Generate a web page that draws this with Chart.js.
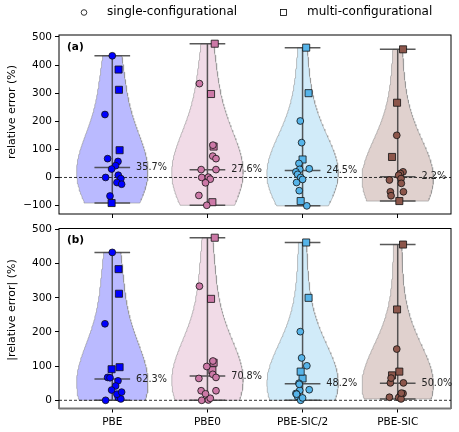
<!DOCTYPE html>
<html>
<head>
<meta charset="utf-8">
<script src="https://cdn.jsdelivr.net/npm/chart.js@4.4.0/dist/chart.umd.min.js"></script>
<style>
  body { margin: 0; background: #fff; }
  #wrap { position: relative; width: 459px; height: 432px; }
  canvas { position: absolute; left: 0; top: 0; }
</style>
</head>
<body>
<div id="wrap">
  <canvas id="topChart" width="459" height="432"></canvas>
  <canvas id="botChart" width="459" height="432"></canvas>
</div>
<script>
// methods along the x axis
var categories = ['PBE', 'PBE0', 'PBE-SIC/2', 'PBE-SIC'];
var yTicksA = [-100, 0, 100, 200, 300, 400, 500];
var yTicksB = [0, 100, 200, 300, 400, 500];

// medians printed next to each violin
var medA = [35.7, 27.6, 24.5, 2.2];
var medB = [62.3, 70.8, 48.2, 50.0];

// relative errors (%) per system, jitter offset, 1 = multi-configurational
var pbeErr   = [433, 384, 312, 224, 97, 67, 57, 42, 30, 0, 8, -4, -18, -24, -66, -91];
var pbeJit   = [0, 0.066, 0.07, -0.077, 0.077, -0.049, 0.06, 0.035, -0.007, -0.07, 0.063, 0.09, 0.049, 0.098, -0.024, -0.007];
var pbeMulti = [0, 1, 1, 0, 1, 0, 0, 0, 0, 0, 0, 0, 0, 0, 0, 1];

var pbe0Err   = [476, 334, 297, 115, 110, 76, 67, 28, 28, 0, 1, -6, -19, -64, -88, -99];
var pbe0Jit   = [0.077, -0.084, 0.038, 0.058, 0.065, 0.056, 0.09, -0.066, 0.09, -0.06, 0.01, 0.03, -0.02, -0.09, 0.052, -0.007];
var pbe0Multi = [1, 0, 1, 0, 1, 0, 0, 0, 0, 0, 0, 0, 0, 0, 1, 0];

var sic2Err   = [462, 300, 201, 124, 64, 50, 31, 29, 20, 11, 0, -7, -18, -47, -84, -101];
var sic2Jit   = [0.038, 0.063, -0.024, -0.01, 0, -0.038, 0.07, -0.03, -0.07, -0.052, -0.02, 0, -0.063, -0.035, -0.02, 0.045];
var sic2Multi = [1, 1, 0, 0, 1, 0, 0, 0, 0, 0, 0, 0, 0, 0, 1, 0];

var sicErr   = [456, 266, 150, 73, 20, 14, 8, -4, -9, -21, -51, -51, -65, -84];
var sicJit   = [0.056, -0.007, -0.01, -0.06, 0.056, 0.028, 0.01, 0.035, -0.087, 0.038, 0.06, -0.077, -0.07, 0.017];
var sicMulti = [1, 1, 0, 1, 0, 0, 0, 0, 0, 0, 0, 0, 0, 1];

var colors = ['#0000ff', '#cc79a7', '#56b4e9', '#8c564b'];

var series = [
  {err: pbeErr, jit: pbeJit, multi: pbeMulti},
  {err: pbe0Err, jit: pbe0Jit, multi: pbe0Multi},
  {err: sic2Err, jit: sic2Jit, multi: sic2Multi},
  {err: sicErr, jit: sicJit, multi: sicMulti}
];

var FONT = '"DejaVu Sans", sans-serif';
var xMin = -0.56, xMax = 3.56;
var halfW = 0.375, cap = 0.1875;
var bwScale = 1.5;

function rgba(hex, a) {
  var n = parseInt(hex.slice(1), 16);
  return 'rgba(' + (n >> 16) + ',' + ((n >> 8) & 255) + ',' + (n & 255) + ',' + a + ')';
}

// gaussian kde of the points, scaled so every violin has the same max width
function violin(vals, center) {
  var n = vals.length;
  var mean = vals.reduce(function (a, b) { return a + b; }, 0) / n;
  var vr = vals.reduce(function (a, b) { return a + (b - mean) * (b - mean); }, 0) / (n - 1);
  var bw2 = vr * Math.pow(n, -0.4) * bwScale * bwScale;
  var lo = Math.min.apply(null, vals), hi = Math.max.apply(null, vals);
  var ys = [], ds = [];
  for (var k = 0; k < 100; k++) {
    var y = lo + (hi - lo) * k / 99, d = 0;
    vals.forEach(function (v) { d += Math.exp(-(y - v) * (y - v) / (2 * bw2)); });
    ys.push(y); ds.push(d);
  }
  var m = Math.max.apply(null, ds);
  var left = ys.map(function (y, k) { return {x: center - halfW * ds[k] / m, y: y}; });
  var right = ys.map(function (y, k) { return {x: center + halfW * ds[k] / m, y: y}; }).reverse();
  return left.concat(right, [left[0]]);
}

function buildDatasets(abs, meds) {
  var out = [];
  series.forEach(function (s, i) {
    var vals = abs ? s.err.map(Math.abs) : s.err;
    var single = [], multi = [];
    vals.forEach(function (v, k) {
      var p = {x: i + s.jit[k], y: v};
      if (s.multi[k]) multi.push(p); else single.push(p);
    });
    out.push({data: single, pointStyle: 'circle', pointRadius: 3.4, backgroundColor: colors[i],
      borderColor: '#111', borderWidth: 0.8, order: 0});
    out.push({data: multi, pointStyle: 'rect', pointRadius: 5, backgroundColor: colors[i],
      borderColor: '#111', borderWidth: 0.8, order: 0});
    var lo = Math.min.apply(null, vals), hi = Math.max.apply(null, vals), md = meds[i];
    out.push({
      data: [{x: i, y: lo}, {x: i, y: hi}, {x: i, y: null},
             {x: i - cap, y: lo}, {x: i + cap, y: lo}, {x: i, y: null},
             {x: i - cap, y: hi}, {x: i + cap, y: hi}, {x: i, y: null},
             {x: i - cap, y: md}, {x: i + cap, y: md}],
      showLine: true, spanGaps: false, pointRadius: 0, borderColor: 'rgba(60,60,60,0.85)',
      borderWidth: 1.5, order: 1
    });
    out.push({data: violin(vals, i), showLine: true, fill: 'shape', backgroundColor: rgba(colors[i], 0.27),
      borderColor: 'rgba(140,140,140,0.55)', borderWidth: 1, pointRadius: 0, order: 3});
  });
  out.push({data: [{x: xMin, y: 0}, {x: xMax, y: 0}], showLine: true, borderDash: [3, 2],
    borderColor: '#000', borderWidth: 0.8, pointRadius: 0, order: 2});
  return out;
}

var panelDeco = {
  id: 'panelDeco',
  afterDraw: function (chart, args, o) {
    var ctx = chart.ctx, a = chart.chartArea, x = chart.scales.x, y = chart.scales.y;
    ctx.save();
    ctx.strokeStyle = '#000';
    ctx.lineWidth = 1;
    ctx.strokeRect(a.left, a.top, a.right - a.left, a.bottom - a.top);
    if (o.grayBottom) {
      ctx.strokeStyle = '#777';
      ctx.lineWidth = 2;
      ctx.beginPath();
      ctx.moveTo(a.left, a.bottom);
      ctx.lineTo(a.right, a.bottom);
      ctx.stroke();
    }

    ctx.font = '9.7px ' + FONT;
    ctx.fillStyle = '#222';
    ctx.textBaseline = 'middle';
    ctx.textAlign = 'left';
    o.meds.forEach(function (m, i) {
      ctx.fillText(m.toFixed(1) + '%', x.getPixelForValue(i + 0.25), y.getPixelForValue(m));
    });

    ctx.font = 'bold 10.5px ' + FONT;
    ctx.fillStyle = '#000';
    ctx.fillText(o.label, a.left + 8, a.top + 12);

    // y axis title
    ctx.save();
    ctx.translate(12, o.titleY);
    ctx.rotate(-Math.PI / 2);
    ctx.textAlign = 'center';
    ctx.font = '11px ' + FONT;
    ctx.fillText(o.title, 0, 0);
    ctx.restore();

    if (o.legend) {
      ctx.strokeStyle = '#000';
      ctx.lineWidth = 0.8;
      ctx.beginPath();
      ctx.arc(84, 12.5, 2.8, 0, Math.PI * 2);
      ctx.stroke();
      ctx.strokeRect(280.5, 9.5, 6, 6);
      ctx.font = '12px ' + FONT;
      ctx.fillText('single-configurational', 107, 12);
      ctx.fillText('multi-configurational', 307, 12);
    }
    ctx.restore();
  }
};

function makePanel(id, abs, meds, yTicks, yMin, yMax, yTitle, titleY, label, pad, xHeight, showX) {
  return new Chart(document.getElementById(id), {
    type: 'scatter',
    data: {datasets: buildDatasets(abs, meds)},
    options: {
      responsive: false,
      animation: false,
      events: [],
      layout: {padding: pad},
      plugins: {
        legend: {display: false},
        tooltip: {enabled: false},
        panelDeco: {meds: meds, label: label, legend: !abs, title: yTitle, titleY: titleY, grayBottom: abs}
      },
      scales: {
        x: {
          min: xMin, max: xMax,
          afterFit: function (s) { s.height = xHeight; },
          afterBuildTicks: function (s) { s.ticks = categories.map(function (c, i) { return {value: i}; }); },
          grid: {drawOnChartArea: false, drawTicks: true, tickLength: 4, color: '#000'},
          border: {display: false},
          ticks: {
            autoSkip: false, maxRotation: 0, padding: 3, color: '#000',
            font: {family: FONT, size: 10.5},
            callback: function (v) { return showX ? categories[v] : ''; }
          }
        },
        y: {
          min: yMin, max: yMax,
          afterFit: function (s) { s.width = 59; },
          afterBuildTicks: function (s) { s.ticks = yTicks.map(function (v) { return {value: v}; }); },
          grid: {drawOnChartArea: false, drawTicks: true, tickLength: 4, color: '#000'},
          border: {display: false},
          ticks: {padding: 3, color: '#000', font: {family: FONT, size: 10.5},
            callback: function (v) { return v < 0 ? '\u2212' + Math.abs(v) : String(v); }}
        }
      }
    },
    plugins: [panelDeco]
  });
}

makePanel('topChart', false, medA, yTicksA, -130, 507, 'relative error (%)', 112, '(a)',
  {top: 35, right: 8, left: 0, bottom: 210}, 8, false);
makePanel('botChart', true, medB, yTicksB, -24, 503, '|relative error| (%)', 310, '(b)',
  {top: 228.5, right: 8, left: 0, bottom: 0}, 23.5, true);
</script>
</body>
</html>
